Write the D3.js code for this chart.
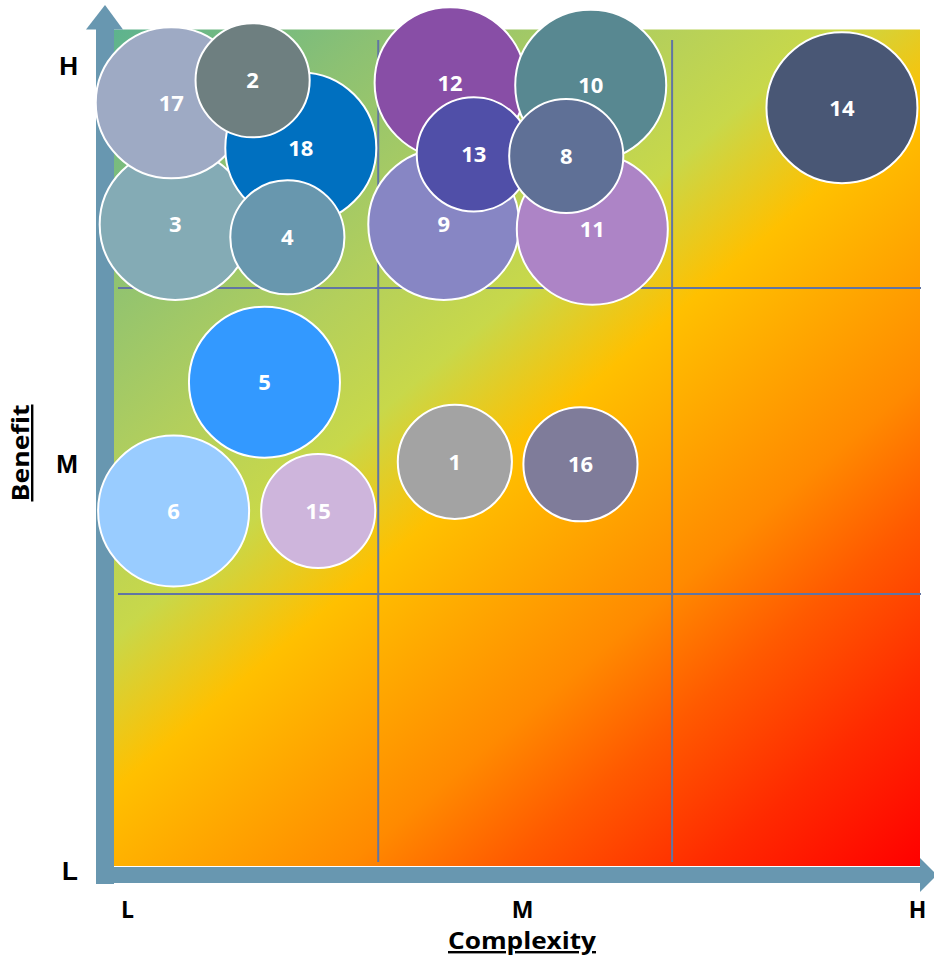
<!DOCTYPE html>
<html>
<head>
<meta charset="utf-8">
<script src="https://cdn.jsdelivr.net/npm/d3@7"></script>
<style>
  html, body { margin: 0; padding: 0; background: #ffffff; }
  svg { display: block; }
</style>
</head>
<body>
<svg id="chart" width="934" height="955"></svg>
<script>
// ---- data ----
const labels      = ["3", "17", "18", "12", "9", "10", "11", "14", "5", "6", "2", "4", "13", "8", "15", "1", "16"];
const complexity  = [0.61, 0.56, 2.20, 4.09, 4.01, 5.87, 5.89, 9.05, 1.74, 0.59, 1.59, 2.03, 4.39, 5.56, 2.42, 4.15, 5.74];
const benefit     = [8.02, 9.53, 8.97, 9.78, 8.02, 9.75, 7.96, 9.47, 6.06, 4.46, 9.81, 7.86, 8.89, 8.87, 4.46, 5.07, 5.04];
const bubbleSize  = [7, 7, 7, 7, 7, 7, 7, 7, 7, 7, 4, 4, 4, 4, 4, 4, 4];
const bubbleColor = ["#84abb5", "#9eaac4", "#0070c0", "#884ea6", "#8786c4", "#588891", "#ad84c6", "#495775",
                     "#3399ff", "#99ccff", "#6e7f80", "#6897ae", "#504fa8", "#5f7096", "#ceb5dc", "#a3a3a3", "#7f7c9a"];
const xTickValues = [0, 5, 10];
const xTickLabels = ["L", "M", "H"];
const yTickValues = [0, 5.05, 10];
const yTickLabels = ["L", "M", "H"];
const xGridValues = [3.18, 6.90];
const yGridValues = [7.23, 3.43];
const xTitle = "Complexity";
const yTitle = "Benefit";

// ---- layout ----
const svg = d3.select("#chart");
const plot = { left: 114, top: 29.5, right: 920, bottom: 866 };
const x = d3.scaleLinear().domain([0, 10]).range([127, 917]);
const y = d3.scaleLinear().domain([0, 10]).range([870, 65]);
const r = d3.scaleSqrt().domain([0, 7]).range([0, 75.5]);
const axisColor = "#6897b0";
const gridColor = "#6175a3";

// background gradient
const defs = svg.append("defs");
const grad = defs.append("linearGradient").attr("id", "bg")
  .attr("x1", 0).attr("y1", 0).attr("x2", 0.89).attr("y2", 1.09);
[[0, "#5db38e"], [0.15, "#8cc173"], [0.30, "#b3cf5c"], [0.40, "#c8d84a"], [0.50, "#ffc000"],
 [0.60, "#ffa200"], [0.68, "#ff8a00"], [0.77, "#ff5a00"], [0.88, "#ff2a00"], [1, "#ff0000"]].forEach(s =>
  grad.append("stop").attr("offset", s[0]).attr("stop-color", s[1]));

svg.append("rect")
  .attr("x", plot.left).attr("y", plot.top)
  .attr("width", plot.right - plot.left).attr("height", plot.bottom - plot.top)
  .attr("fill", "url(#bg)");

// grid lines
svg.append("g").selectAll("line").data(xGridValues).join("line")
  .attr("x1", d => x(d)).attr("x2", d => x(d))
  .attr("y1", 40).attr("y2", 862)
  .attr("stroke", gridColor).attr("stroke-width", 2);
svg.append("g").selectAll("line").data(yGridValues).join("line")
  .attr("x1", 118).attr("x2", plot.right + 1)
  .attr("y1", d => y(d)).attr("y2", d => y(d))
  .attr("stroke", gridColor).attr("stroke-width", 2);

// axes arrows
svg.append("rect").attr("x", 96).attr("y", 28).attr("width", 18).attr("height", 856).attr("fill", axisColor);
svg.append("polygon").attr("points", "86,29.5 105,5 123,29.5").attr("fill", axisColor);
svg.append("rect").attr("x", 96).attr("y", 867).attr("width", 825).attr("height", 16).attr("fill", axisColor);
svg.append("polygon").attr("points", "920,858 937,875 920,892").attr("fill", axisColor);

// bubbles
const data = labels.map((l, i) => ({ label: l, cx: complexity[i], cy: benefit[i], s: bubbleSize[i], c: bubbleColor[i] }));
const g = svg.append("g");
const node = g.selectAll("g.b").data(data).join("g").attr("class", "b")
  .attr("transform", d => `translate(${x(d.cx)},${y(d.cy)})`);
node.append("circle").attr("r", d => r(d.s))
  .attr("fill", d => d.c).attr("stroke", "#ffffff").attr("stroke-width", 2);
node.append("text").text(d => d.label)
  .attr("text-anchor", "middle").attr("dy", "0.36em")
  .attr("fill", "#ffffff").attr("font-family", "'Open Sans', sans-serif")
  .attr("font-weight", "bold").attr("font-size", 22);

// tick labels
const xAxis = d3.axisBottom(x).tickValues(xTickValues).tickFormat((d, i) => xTickLabels[i]).tickSize(0).tickPadding(0);
const xg = svg.append("g").attr("transform", "translate(0,902)").call(xAxis);
xg.select(".domain").remove();
xg.selectAll("text").attr("dy", "0.71em").attr("font-family", "'Open Sans', sans-serif")
  .attr("font-weight", "bold").attr("font-size", 23).attr("fill", "#000");

const yAxis = d3.axisLeft(y).tickValues(yTickValues).tickFormat((d, i) => yTickLabels[i]).tickSize(0).tickPadding(0);
const yg = svg.append("g").attr("transform", "translate(78,0)").call(yAxis);
yg.select(".domain").remove();
yg.selectAll("text").attr("dy", "0.36em").attr("font-family", "'Liberation Sans', Arial, sans-serif")
  .attr("font-weight", "bold").attr("font-size", 26).attr("fill", "#000");

// axis titles
svg.append("text").text(xTitle)
  .attr("x", 522).attr("y", 949).attr("text-anchor", "middle")
  .attr("font-family", "'Open Sans', sans-serif").attr("font-weight", "bold").attr("font-size", 24)
  .attr("text-decoration", "underline").attr("fill", "#000")
  .attr("textLength", 148).attr("lengthAdjust", "spacingAndGlyphs");
svg.append("text").text(yTitle)
  .attr("transform", "translate(29,453) rotate(-90)").attr("text-anchor", "middle")
  .attr("font-family", "'Open Sans', sans-serif").attr("font-weight", "bold").attr("font-size", 24)
  .attr("text-decoration", "underline").attr("fill", "#000")
  .attr("textLength", 97).attr("lengthAdjust", "spacingAndGlyphs");
</script>
</body>
</html>
